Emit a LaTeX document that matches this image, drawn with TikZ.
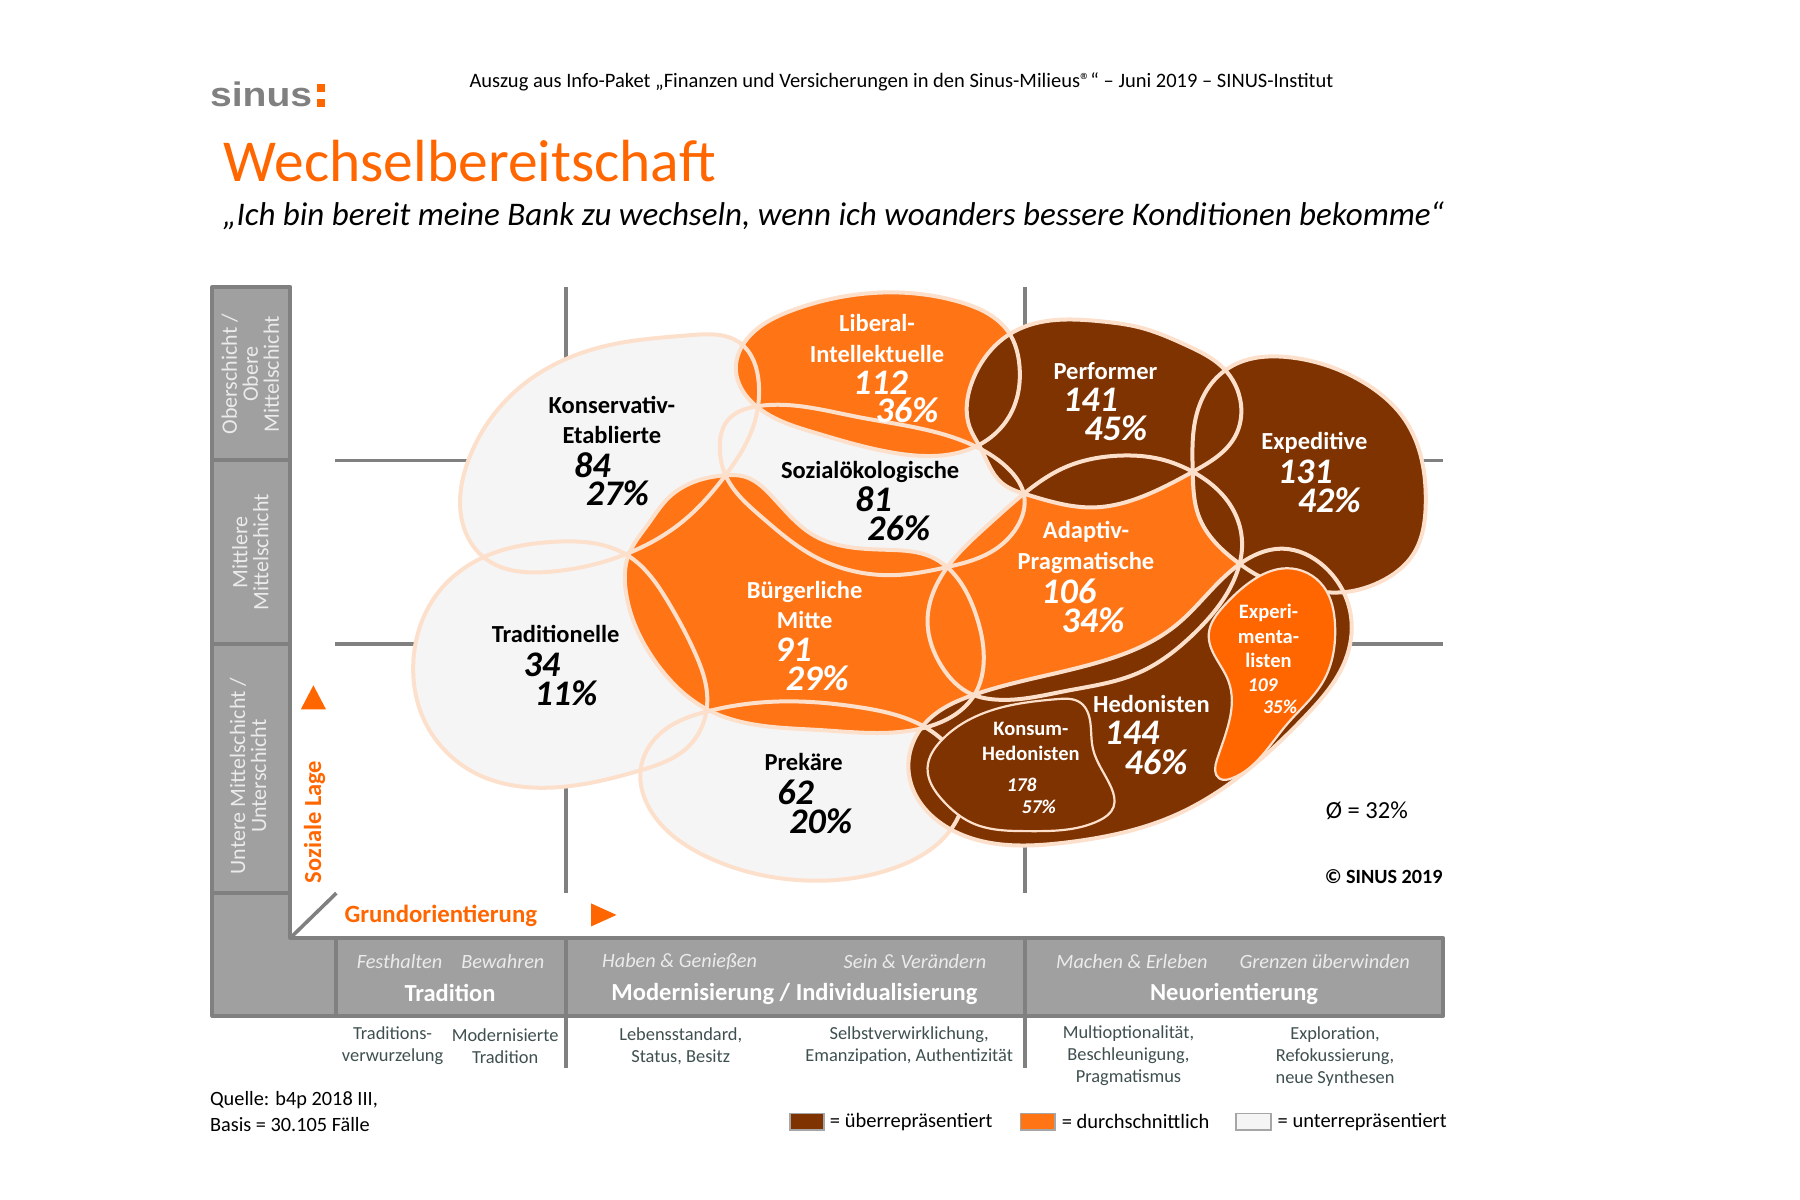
\documentclass[tikz,border=0pt]{standalone}
\usepackage{fontspec}
\usetikzlibrary{hobby}
\setmainfont{Carlito}
\newfontfamily\logofont{Liberation Sans}
\definecolor{brownf}{HTML}{7F3300}
\definecolor{orangef}{HTML}{FF7516}
\definecolor{expf}{HTML}{FF6600}
\definecolor{lightf}{HTML}{F5F5F5}
\definecolor{peach}{HTML}{FDE0CC}
\definecolor{gfill}{HTML}{A0A0A0}
\definecolor{gline}{HTML}{808080}
\definecolor{subt}{HTML}{3F4F4F}
\newcommand\fsz[1]{\fontsize{#1}{1.2\dimexpr #1pt\relax}\selectfont}
\tikzset{
 x=1.148pt,y=-1.148pt,
 every node/.style={inner sep=0pt,outer sep=0pt,align=center},
 band/.style={draw=gline,line width=4pt,fill=gfill,line join=round},
 gridl/.style={draw=gline,line width=3.6pt},
 hob/.style={use Hobby shortcut,closed=true},
 blobline/.style={hob,draw=peach,line width=4pt},
 thinline/.style={hob,draw=peach,line width=2.2pt},
 mname/.style={font=\fsz{24.5}\bfseries},
 mnum/.style={font=\fsz{36}\bfseries\itshape},
 sname/.style={font=\fsz{20.5}\bfseries},
 snum/.style={font=\fsz{19.5}\bfseries\itshape},
 side/.style={rotate=90,text=white!92!black,font=\fontsize{22}{21}\selectfont},
 ital/.style={text=white!92!black,font=\fsz{20.3}\itshape},
 head/.style={text=white,font=\fsz{24.5}\bfseries},
 sub/.style={text=subt,font=\fontsize{18.4}{22}\selectfont},
 foot/.style={anchor=west,font=\fsz{20.3}},
 legbox/.style={draw=gline!70,line width=1.8pt},
}
\def\pKons{(601,292)..(645,299)..(661,334)..(656,372)..(632,414)..(595,454)..(547,482)..(480,498)..(422,486)..(401,444)..(408,401)..(457,334)..(529,301)}
\def\pTrad{(482,472)..(547,484)..(583,526)..(606,570)..(616,605)..(600,650)..(558,671)..(482,686)..(415,674)..(368,624)..(360,578)..(381,517)..(422,485)}
\def\pSoz{(659,354)..(746,363)..(850,389)..(880,410)..(892,431)..(886,459)..(863,481)..(825,494)..(778,501)..(710,485)..(663,450)..(632,414)..(627,389)..(634,366)}
\def\pPrek{(615,620)..(575,639)..(558,671)..(568,708)..(615,746)..(702,767)..(782,755)..(828,723)..(840,680)..(818,642)..(805,633)..(748,616)..(682,611)}
\def\pLib{(764,255)..(836,263)..(879,290)..(888,318)..(879,363)..(852,388)..(782,395)..(710,377)..(659,354)..(641,322)..(648,299)..(691,270)}
\def\pBuer{(632,414)..(648,415)..(673,433)..(710,467)..(775,479)..(811,485)..(825,494)..(850,535)..(857,573)..(849,605)..(805,634)..(715,636)..(616,618)..(572,578)..(545,514)..(547,485)..(565,456)..(583,433)}
\def\pAdap{(892,430)..(928,407)..(973,397)..(1011,400)..(1039,411)..(1073,442)..(1082,473)..(1075,505)..(1040,552)..(992,586)..(928,602)..(863,609)..(847,605)..(820,580)..(808,541)..(826,493)..(860,458)}
\def\pPerf{(960,280)..(992,285)..(1034,301)..(1066,321)..(1081,352)..(1076,380)..(1039,411)..(999,431)..(953,442)..(895,431)..(873,421)..(854,390)..(845,373)..(847,332)..(883,289)}
\def\pExp{(1121,311)..(1186,332)..(1224,366)..(1242,438)..(1231,483)..(1202,507)..(1169,516)..(1130,512)..(1097,502)..(1081,492)..(1044,449)..(1039,411)..(1040,373)..(1057,332)..(1079,316)}
\def\pHed{(1118,478)..(1153,493)..(1177,538)..(1172,575)..(1137,624)..(1089,669)..(1024,710)..(928,734)..(831,724)..(792,676)..(805,631)..(849,605)..(960,576)..(1024,545)..(1079,492)}
\def\pKon{(808,669)..(820,645)..(863,619)..(921,609)..(941,612)..(950,631)..(952,652)..(968,686)..(970,703)..(957,715)..(895,724)..(847,717)..(821,697)}
\def\pExpm{(1121,495)..(1153,511)..(1163,545)..(1153,593)..(1121,631)..(1073,678)..(1062,678)..(1060,662)..(1070,593)..(1053,552)..(1066,528)..(1089,507)}
\begin{document}
\begin{tikzpicture}
\useasboundingbox (0,0) rectangle (1568,1045);
% grid
\draw[gridl] (493,250) -- (493,778);
\draw[gridl] (893,250) -- (893,778);
\draw[gridl] (292,401) -- (1257,401);
\draw[gridl] (292,561) -- (1257,561);
% frame
\draw[band] (185,250) rectangle (253,401);
\draw[band] (185,401) rectangle (253,561);
\draw[band] (185,561) rectangle (253,778);
\draw[band] (185,778) -- (253,778) -- (253,817) -- (293,817) -- (293,885) -- (185,885) -- cycle;
\draw[band] (293,817) rectangle (493,885);
\draw[band] (493,817) rectangle (893,885);
\draw[band] (893,817) rectangle (1257,885);
\draw[gridl] (493,885) -- (493,930);
\draw[gridl] (893,885) -- (893,930);
\coordinate (diagA) at (254,816);
\coordinate (diagB) at (293,778);
\draw[gridl] (diagA) -- (diagB);
% blobs fills
\fill[hob,lightf] \pKons; \fill[hob,lightf] \pTrad; \fill[hob,lightf] \pSoz; \fill[hob,lightf] \pPrek;
\fill[hob,orangef] \pLib; \fill[hob,orangef] \pBuer; \fill[hob,orangef] \pAdap;
\fill[hob,brownf] \pPerf; \fill[hob,brownf] \pExp; \fill[hob,brownf] \pHed;
\draw[blobline] \pKons; \draw[blobline] \pTrad; \draw[blobline] \pSoz; \draw[blobline] \pPrek;
\draw[blobline] \pLib; \draw[blobline] \pBuer; \draw[blobline] \pAdap;
\draw[blobline] \pPerf; \draw[blobline] \pExp; \draw[blobline] \pHed;
\fill[hob,brownf] \pKon; \draw[thinline] \pKon;
\fill[hob,expf] \pExpm; \draw[thinline] \pExpm;
% header
\node[anchor=west,font=\fsz{20.5}] (hdr) at (409,71) {Auszug aus Info-Paket „Finanzen und Versicherungen in den Sinus-Milieus®“ – Juni 2019 – SINUS-Institut};
\node[anchor=west,text=gline] (logo) at (183,82) {\logofont\bfseries\fontsize{34}{34}\selectfont\scalebox{1.15}[1]{sinus}};
\fill[expf] (276,73) rectangle (283,80);
\fill[expf] (276,86) rectangle (283,93);
\node[anchor=west,text=expf,font=\fsz{59.5}] (title) at (195,140) {Wechselbereitschaft};
\node[anchor=west,font=\fsz{33}\itshape] (subtitle) at (194,188) {„Ich bin bereit meine Bank zu wechseln, wenn ich woanders bessere Konditionen bekomme“};
% side
\node[side] (s1) at (218,326) {Oberschicht /\\Obere\\Mittelschicht};
\node[side] (s2) at (218,481) {Mittlere\\Mittelschicht};
\node[side] (s3) at (216,676) {Untere Mittelschicht /\\Unterschicht};
\node[rotate=90,text=expf,font=\fsz{24.5}\bfseries] (soz) at (274,716) {Soziale Lage};
\fill[expf] (262,618) -- (284,618) -- (273,597) -- cycle;
\node[text=expf,font=\fsz{24.8}\bfseries] (gru) at (384,798) {Grundorientierung};
\fill[expf] (515,787) -- (537,797) -- (515,807) -- cycle;
% band text
\node[ital] (b1) at (348,838) {Festhalten};
\node[ital] (b2) at (438,838) {Bewahren};
\node[head] (b3) at (392,865) {Tradition};
\node[ital] (b4) at (592,838) {Haben \& Genießen};
\node[ital] (b5) at (797,838) {Sein \& Verändern};
\node[head] (b6) at (692,866) {Modernisierung / Individualisierung};
\node[ital] (b7) at (986,838) {Machen \& Erleben};
\node[ital] (b8) at (1154,838) {Grenzen überwinden};
\node[head] (b9) at (1075,866) {Neuorientierung};
\node[sub] (u1) at (342,911) {Traditions-\\verwurzelung};
\node[sub] (u2) at (440,911) {Modernisierte\\Tradition};
\node[sub] (u3) at (593,911) {Lebensstandard,\\Status, Besitz};
\node[sub] (u4) at (792,911) {Selbstverwirklichung,\\Emanzipation, Authentizität};
\node[sub] (u5) at (983,920) {Multioptionalität,\\Beschleunigung,\\Pragmatismus};
\node[sub] (u6) at (1163,920) {Exploration,\\Refokussierung,\\neue Synthesen};
% labels
\node[mname] (k1) at (533,366) {Konservativ-\\[1pt]Etablierte};
\node[mnum] (k2) at (516,405) {84};
\node[mnum] (k3) at (538,430) {27\%};
\node[mname,text=white] (l1) at (764,295) {Liberal-\\[1pt]Intellektuelle};
\node[mnum,text=white] (l2) at (767,333) {112};
\node[mnum,text=white] (l3) at (790,357) {36\%};
\node[mname,text=white] (p1) at (963,323) {Performer};
\node[mnum,text=white] (p2) at (950,348) {141};
\node[mnum,text=white] (p3) at (972,373) {45\%};
\node[mname,text=white] (e1) at (1145,386) {Expeditive};
\node[mnum,text=white] (e2) at (1137,411) {131};
\node[mnum,text=white] (e3) at (1158,436) {42\%};
\node[mname] (z1) at (758,411) {Sozialökologische};
\node[mnum] (z2) at (761,435) {81};
\node[mnum] (z3) at (783,460) {26\%};
\node[mname,text=white] (a1) at (946,477) {Adaptiv-\\[1pt]Pragmatische};
\node[mnum,text=white] (a2) at (931,515) {106};
\node[mnum,text=white] (a3) at (952,540) {34\%};
\node[mname,text=white] (m1) at (701,527) {Bürgerliche\\[1pt]Mitte};
\node[mnum,text=white] (m2) at (691,566) {91};
\node[mnum,text=white] (m3) at (712,591) {29\%};
\node[mname] (t1) at (484,552) {Traditionelle};
\node[mnum] (t2) at (472,579) {34};
\node[mnum] (t3) at (493,604) {11\%};
\node[mname] (r1) at (700,664) {Prekäre};
\node[mnum] (r2) at (693,690) {62};
\node[mnum] (r3) at (715,715) {20\%};
\node[mname,text=white] (h1) at (1003,613) {Hedonisten};
\node[mnum,text=white] (h2) at (986,638) {144};
\node[mnum,text=white] (h3) at (1007,664) {46\%};
\node[sname,text=white] (o1) at (898,646) {Konsum-\\Hedonisten};
\node[snum,text=white] (o2) at (890,684) {178};
\node[snum,text=white] (o3) at (905,703) {57\%};
\node[sname,text=white] (x1) at (1105,554) {Experi-\\menta-\\listen};
\node[snum,text=white] (x2) at (1100,597) {109};
\node[snum,text=white] (x3) at (1115,616) {35\%};
\node[foot,font=\fsz{24.5}] (avg) at (1155,706) {Ø = 32\%};
\node[foot,font=\fsz{20.2}\bfseries] (copy) at (1154,764) {© SINUS 2019};
% footer
\node[foot] (q1) at (183,958) {Quelle: b4p 2018 III,};
\node[foot] (q2) at (183,980) {Basis = 30.105 Fälle};
\draw[legbox,fill=brownf] (688,970) rectangle (718,984);
\node[foot,font=\fsz{20.5}] (lg1) at (723,977) {= überrepräsentiert};
\draw[legbox,fill=orangef] (889,970) rectangle (919,984);
\node[foot,font=\fsz{20.5}] (lg2) at (925,977) {= durchschnittlich};
\draw[legbox,fill=lightf] (1077,970) rectangle (1107,984);
\node[foot,font=\fsz{20.5}] (lg3) at (1113,977) {= unterrepräsentiert};
\end{tikzpicture}
\end{document}
